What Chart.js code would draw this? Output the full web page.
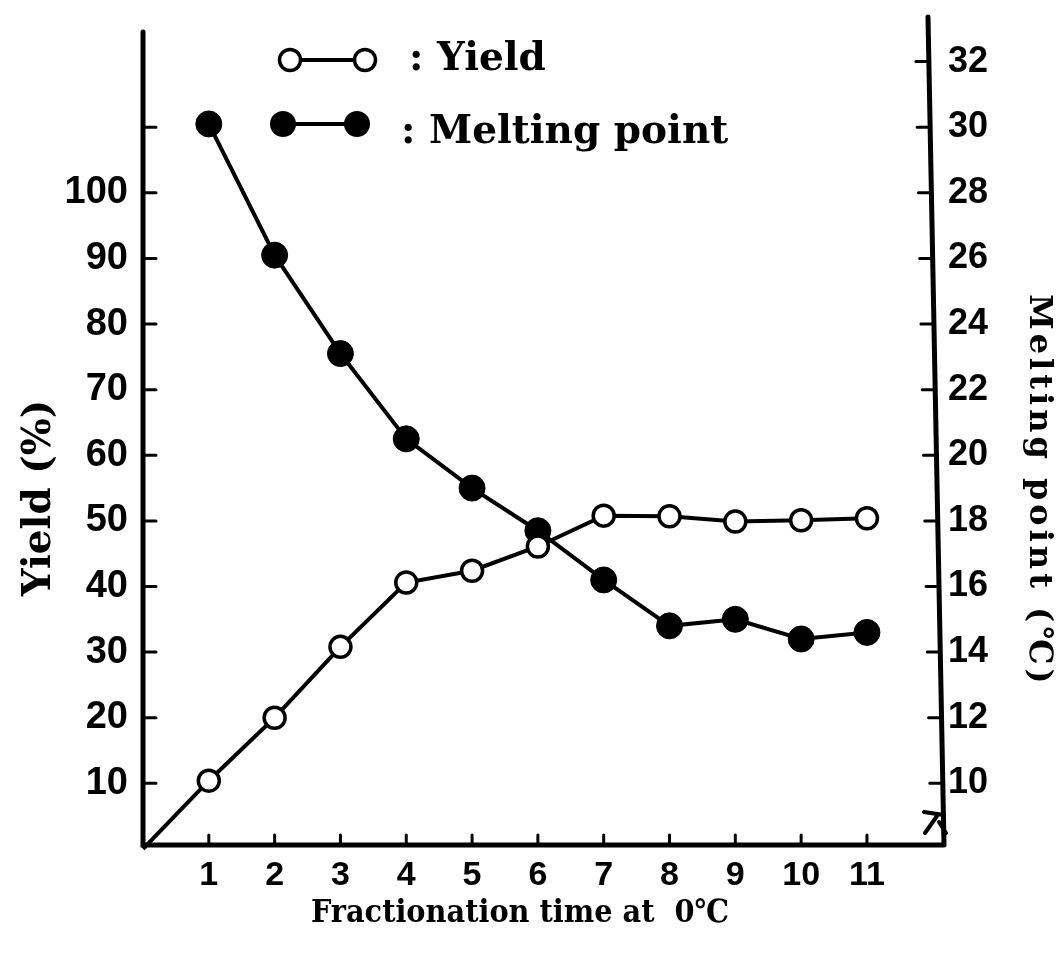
<!DOCTYPE html>
<html>
<head>
<meta charset="utf-8">
<script src="https://cdn.jsdelivr.net/npm/chart.js@4.4.1/dist/chart.umd.min.js"></script>
<style>
html, body { margin: 0; padding: 0; background: #fff; }
canvas { display: block; }
</style>
</head>
<body>
<canvas id="chart" width="1064" height="958"></canvas>
<script>
// data
var yieldTime = [0, 1, 2, 3, 4, 5, 6, 7, 8, 9, 10, 11];
var yieldPct = [0, 10.4, 20, 30.8, 40.6, 42.4, 46.1, 50.8, 50.7, 49.9, 50.1, 50.4];
var meltTime = [1, 2, 3, 4, 5, 6, 7, 8, 9, 10, 11];
var meltPoint = [30.1, 26.1, 23.1, 20.5, 19.0, 17.7, 16.2, 14.8, 15.0, 14.4, 14.6];

// tick labels
var xTickLabels = [1, 2, 3, 4, 5, 6, 7, 8, 9, 10, 11];
var yieldTickLabels = [10, 20, 30, 40, 50, 60, 70, 80, 90, 100];
var yieldTickMarks = [10, 20, 30, 40, 50, 60, 70, 80, 90, 100, 110];
var meltTickLabels = [10, 12, 14, 16, 18, 20, 22, 24, 26, 28, 30, 32];

var legendLabels = [': Yield', ': Melting point'];
var xTitle = 'Fractionation time at  0\u2103';
var yTitle = 'Yield (%)';
var y2Title = 'Melting point (\u2103)';

var ink = '#000';
var sansFamily = '"Liberation Sans", Arial, sans-serif';
var serifFont = '"DejaVu Serif", "Liberation Serif", serif';
var serifCond = '"DejaVu Serif Condensed", "DejaVu Serif", serif';

function toPoints(xs, ys) {
    var pts = [];
    for (var i = 0; i < xs.length; i++) {
        pts.push({ x: xs[i], y: ys[i] });
    }
    return pts;
}

// x of the (slightly leaning) right axis at a given pixel height
function rightAxisX(area, py) {
    return area.right - 12 + 16 * (py - area.top) / (area.bottom - area.top);
}

//plugin for axes, inward ticks, titles, legend
var decor = {
    id: 'decor',
    afterDraw: function (chart) {
        var ctx = chart.ctx;
        var area = chart.chartArea;
        var xs = chart.scales.x, yl = chart.scales.y, yr = chart.scales.y2;
        ctx.save();
        ctx.strokeStyle = ink;
        ctx.fillStyle = ink;
        ctx.lineCap = 'round';

        // axis lines
        ctx.lineWidth = 5;
        ctx.beginPath();
        ctx.moveTo(area.left, 32);
        ctx.lineTo(area.left, area.bottom);
        ctx.lineTo(rightAxisX(area, area.bottom), area.bottom);
        ctx.moveTo(rightAxisX(area, area.top), area.top);
        ctx.lineTo(rightAxisX(area, area.bottom), area.bottom);
        ctx.stroke();

        // tick marks pointing inward
        ctx.lineWidth = 3;
        ctx.beginPath();
        yieldTickMarks.forEach(function (v) {
            var p = yl.getPixelForValue(v);
            ctx.moveTo(area.left, p);
            ctx.lineTo(area.left + 13, p);
        });
        meltTickLabels.forEach(function (v) {
            var p = yr.getPixelForValue(v);
            var ax = rightAxisX(area, p);
            ctx.moveTo(ax, p);
            ctx.lineTo(ax - 13, p);
        });
        xTickLabels.forEach(function (v) {
            var p = xs.getPixelForValue(v);
            ctx.moveTo(p, area.bottom);
            ctx.lineTo(p, area.bottom - 10);
        });
        ctx.stroke();

        // axis break mark
        ctx.lineWidth = 4;
        ctx.beginPath();
        ctx.moveTo(924, 812);
        ctx.lineTo(944, 815);
        ctx.moveTo(937, 816);
        ctx.lineTo(925, 833);
        ctx.moveTo(939, 822);
        ctx.lineTo(946, 833);
        ctx.stroke();

        // axis titles
        ctx.font = 'bold 32px ' + serifCond;
        ctx.textAlign = 'center';
        ctx.textBaseline = 'alphabetic';
        ctx.fillText(xTitle, 520, 922);

        ctx.textBaseline = 'middle';
        ctx.save();
        ctx.translate(40, 498);
        ctx.rotate(-Math.PI / 2);
        ctx.font = 'bold 39px ' + serifFont;
        ctx.fillText(yTitle, 0, 0);
        ctx.restore();

        ctx.save();
        ctx.translate(1038, 491);
        ctx.rotate(Math.PI / 2);
        ctx.font = 'bold 32px ' + serifFont;
        ctx.letterSpacing = '4px';
        ctx.fillText(y2Title, 0, 0);
        ctx.restore();

        // legend
        ctx.lineWidth = 4;
        ctx.beginPath();
        ctx.moveTo(290, 60);
        ctx.lineTo(365, 60);
        ctx.moveTo(283, 124);
        ctx.lineTo(357, 124);
        ctx.stroke();
        ctx.lineWidth = 3.5;
        [290, 365].forEach(function (cx) {
            ctx.beginPath();
            ctx.arc(cx, 60, 10.5, 0, Math.PI * 2);
            ctx.fillStyle = '#fff';
            ctx.fill();
            ctx.stroke();
        });
        ctx.fillStyle = ink;
        [283, 357].forEach(function (cx) {
            ctx.beginPath();
            ctx.arc(cx, 124, 13, 0, Math.PI * 2);
            ctx.fill();
        });
        ctx.font = 'bold 39px ' + serifFont;
        ctx.textAlign = 'left';
        ctx.textBaseline = 'alphabetic';
        ctx.fillText(legendLabels[0], 409, 70);
        ctx.fillText(legendLabels[1], 401, 143);

        ctx.restore();
    }
};

var data = {
    datasets: [{
        label: 'Yield',
        data: toPoints(yieldTime, yieldPct),
        yAxisID: 'y',
        order: 0,
        clip: false,
        borderColor: ink,
        borderWidth: 4,
        pointRadius: function (c) { return c.raw && c.raw.x === 0 ? 0 : 10.5; },
        pointBackgroundColor: '#fff',
        pointBorderColor: ink,
        pointBorderWidth: 3.5,
        tension: 0
    }, {
        label: 'Melting point',
        data: toPoints(meltTime, meltPoint),
        yAxisID: 'y2',
        order: 1,
        clip: false,
        borderColor: ink,
        borderWidth: 4,
        pointRadius: 13,
        pointBackgroundColor: ink,
        pointBorderColor: ink,
        pointBorderWidth: 1,
        tension: 0
    }]
};

var options = {
    responsive: false,
    animation: false,
    maintainAspectRatio: false,
    layout: { autoPadding: false, padding: { top: 17, left: 0, right: 0, bottom: 0 } },
    plugins: { legend: { display: false }, tooltip: { enabled: false } },
    scales: {
        x: {
            type: 'linear',
            min: 0,
            max: 12.11,
            grid: { display: false, drawTicks: false },
            border: { display: false },
            afterFit: function (s) { s.height = 113; s.paddingLeft = 0; s.paddingRight = 0; },
            ticks: {
                stepSize: 1,
                padding: 10,
                autoSkip: false,
                maxRotation: 0,
                color: ink,
                font: { family: sansFamily, size: 34, weight: 'bold' },
                callback: function (v) { return xTickLabels.indexOf(v) >= 0 ? String(v) : ''; }
            }
        },
        y: {
            position: 'left',
            min: 0.6,
            max: 126.8,
            grid: { display: false, drawTicks: false },
            border: { display: false },
            afterFit: function (s) { s.width = 143; s.paddingTop = 0; s.paddingBottom = 0; },
            ticks: {
                stepSize: 10,
                padding: 15,
                autoSkip: false,
                color: ink,
                font: { family: sansFamily, size: 38, weight: 'bold' },
                callback: function (v) { return yieldTickLabels.indexOf(v) >= 0 ? String(v) : ''; }
            }
        },
        y2: {
            position: 'right',
            min: 8.12,
            max: 33.36,
            grid: { display: false, drawTicks: false },
            border: { display: false },
            afterFit: function (s) { s.width = 124; s.paddingTop = 0; s.paddingBottom = 0; },
            ticks: {
                stepSize: 2,
                padding: 8,
                autoSkip: false,
                color: ink,
                font: { family: sansFamily, size: 36, weight: 'bold' },
                callback: function (v) { return meltTickLabels.indexOf(v) >= 0 ? String(v) : ''; }
            }
        }
    }
};

var ctx = document.getElementById('chart').getContext('2d');
var myChart = new Chart(ctx, {
    type: 'line',
    data: data,
    options: options,
    plugins: [decor]
});
</script>
</body>
</html>
